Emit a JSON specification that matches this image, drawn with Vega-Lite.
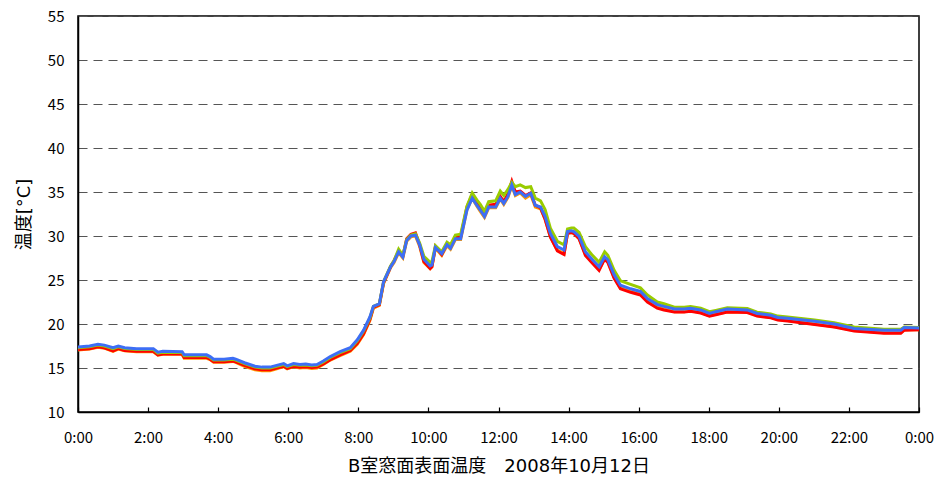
{
  "$schema": "https://vega.github.io/schema/vega-lite/v6.json",
  "autosize": "none",
  "width": 841,
  "height": 396,
  "padding": {"left": 78, "top": 16, "right": 16, "bottom": 66},
  "background": "white",
  "config": {
    "font": "Noto Sans CJK JP",
    "view": {"stroke": "#000000", "strokeWidth": 1.5},
    "axis": {"labelFont": "Noto Sans CJK JP", "titleFont": "DejaVu Sans, Noto Sans CJK JP", "labelColor": "#000", "titleColor": "#000", "titleFontWeight": "normal"}
  },
  "data": {"values": [
    {"h": 0.0, "B": 17.4, "R": 17.1, "G": 17.3, "O": 17.05},
    {"h": 0.33, "B": 17.5, "R": 17.2, "G": 17.4, "O": 17.15},
    {"h": 0.57, "B": 17.7, "R": 17.4, "G": 17.6, "O": 17.35},
    {"h": 0.75, "B": 17.6, "R": 17.3, "G": 17.5, "O": 17.25},
    {"h": 1.0, "B": 17.3, "R": 16.95, "G": 17.2, "O": 16.9},
    {"h": 1.15, "B": 17.5, "R": 17.2, "G": 17.4, "O": 17.15},
    {"h": 1.33, "B": 17.3, "R": 17.0, "G": 17.2, "O": 16.95},
    {"h": 1.67, "B": 17.2, "R": 16.9, "G": 17.1, "O": 16.85},
    {"h": 2.15, "B": 17.2, "R": 16.9, "G": 17.1, "O": 16.85},
    {"h": 2.28, "B": 16.8, "R": 16.5, "G": 16.7, "O": 16.45},
    {"h": 2.42, "B": 16.9, "R": 16.6, "G": 16.8, "O": 16.55},
    {"h": 2.97, "B": 16.85, "R": 16.6, "G": 16.75, "O": 16.55},
    {"h": 3.03, "B": 16.5, "R": 16.2, "G": 16.4, "O": 16.1},
    {"h": 3.67, "B": 16.5, "R": 16.2, "G": 16.4, "O": 16.1},
    {"h": 3.77, "B": 16.3, "R": 16.0, "G": 16.2, "O": 15.95},
    {"h": 3.87, "B": 16.0, "R": 15.7, "G": 15.9, "O": 15.65},
    {"h": 4.17, "B": 16.0, "R": 15.7, "G": 15.9, "O": 15.65},
    {"h": 4.42, "B": 16.1, "R": 15.8, "G": 16.0, "O": 15.75},
    {"h": 4.5, "B": 16.0, "R": 15.7, "G": 15.9, "O": 15.65},
    {"h": 4.75, "B": 15.6, "R": 15.3, "G": 15.5, "O": 15.2},
    {"h": 5.05, "B": 15.2, "R": 14.9, "G": 15.1, "O": 14.8},
    {"h": 5.25, "B": 15.1, "R": 14.8, "G": 15.0, "O": 14.7},
    {"h": 5.48, "B": 15.1, "R": 14.8, "G": 15.0, "O": 14.7},
    {"h": 5.67, "B": 15.3, "R": 15.0, "G": 15.2, "O": 14.9},
    {"h": 5.87, "B": 15.5, "R": 15.2, "G": 15.4, "O": 15.15},
    {"h": 5.97, "B": 15.25, "R": 14.95, "G": 15.15, "O": 14.9},
    {"h": 6.15, "B": 15.5, "R": 15.2, "G": 15.4, "O": 15.15},
    {"h": 6.33, "B": 15.4, "R": 15.1, "G": 15.3, "O": 15.0},
    {"h": 6.5, "B": 15.45, "R": 15.15, "G": 15.35, "O": 15.05},
    {"h": 6.67, "B": 15.35, "R": 15.05, "G": 15.25, "O": 14.95},
    {"h": 6.82, "B": 15.4, "R": 15.1, "G": 15.3, "O": 15.0},
    {"h": 7.0, "B": 15.8, "R": 15.45, "G": 15.7, "O": 15.4},
    {"h": 7.2, "B": 16.3, "R": 15.95, "G": 16.2, "O": 15.9},
    {"h": 7.48, "B": 16.85, "R": 16.5, "G": 16.75, "O": 16.4},
    {"h": 7.77, "B": 17.3, "R": 17.0, "G": 17.2, "O": 16.9},
    {"h": 7.97, "B": 18.2, "R": 17.8, "G": 18.1, "O": 17.7},
    {"h": 8.15, "B": 19.3, "R": 18.9, "G": 19.2, "O": 18.8},
    {"h": 8.33, "B": 20.8, "R": 20.5, "G": 20.7, "O": 20.4},
    {"h": 8.43, "B": 22.0, "R": 21.9, "G": 22.0, "O": 21.8},
    {"h": 8.6, "B": 22.3, "R": 22.2, "G": 22.3, "O": 22.1},
    {"h": 8.72, "B": 24.8, "R": 24.7, "G": 24.8, "O": 24.6},
    {"h": 8.92, "B": 26.5, "R": 26.5, "G": 26.6, "O": 26.4},
    {"h": 9.02, "B": 27.1, "R": 27.2, "G": 27.2, "O": 27.0},
    {"h": 9.15, "B": 28.2, "R": 28.3, "G": 28.5, "O": 28.1},
    {"h": 9.27, "B": 27.6, "R": 27.7, "G": 27.8, "O": 27.5},
    {"h": 9.38, "B": 29.5, "R": 29.7, "G": 29.6, "O": 29.4},
    {"h": 9.5, "B": 30.0, "R": 30.2, "G": 30.1, "O": 29.9},
    {"h": 9.63, "B": 30.1, "R": 30.35, "G": 30.25, "O": 30.0},
    {"h": 9.75, "B": 29.0, "R": 29.0, "G": 29.2, "O": 28.8},
    {"h": 9.87, "B": 27.35, "R": 27.1, "G": 27.7, "O": 27.0},
    {"h": 10.05, "B": 26.6, "R": 26.3, "G": 27.0, "O": 26.3},
    {"h": 10.1, "B": 26.7, "R": 26.5, "G": 27.1, "O": 26.5},
    {"h": 10.2, "B": 28.7, "R": 28.8, "G": 28.9, "O": 28.6},
    {"h": 10.38, "B": 28.0, "R": 27.9, "G": 28.2, "O": 27.8},
    {"h": 10.53, "B": 29.0, "R": 29.1, "G": 29.3, "O": 28.9},
    {"h": 10.63, "B": 28.6, "R": 28.7, "G": 29.0, "O": 28.5},
    {"h": 10.77, "B": 29.7, "R": 29.9, "G": 30.1, "O": 29.6},
    {"h": 10.92, "B": 29.7, "R": 29.9, "G": 30.2, "O": 29.6},
    {"h": 11.1, "B": 32.95, "R": 33.3, "G": 33.4, "O": 33.0},
    {"h": 11.25, "B": 34.3, "R": 34.7, "G": 34.9, "O": 34.3},
    {"h": 11.38, "B": 33.5, "R": 33.8, "G": 34.1, "O": 33.4},
    {"h": 11.48, "B": 32.95, "R": 33.1, "G": 33.6, "O": 32.8},
    {"h": 11.6, "B": 32.2, "R": 32.4, "G": 32.8, "O": 32.1},
    {"h": 11.72, "B": 33.3, "R": 33.5, "G": 33.9, "O": 33.2},
    {"h": 11.92, "B": 33.3, "R": 33.6, "G": 34.0, "O": 33.2},
    {"h": 12.05, "B": 34.3, "R": 34.5, "G": 35.1, "O": 34.2},
    {"h": 12.15, "B": 33.7, "R": 33.9, "G": 34.6, "O": 33.6},
    {"h": 12.27, "B": 34.5, "R": 34.8, "G": 35.3, "O": 34.4},
    {"h": 12.38, "B": 35.8, "R": 36.2, "G": 36.1, "O": 35.7},
    {"h": 12.48, "B": 34.7, "R": 35.0, "G": 35.6, "O": 34.6},
    {"h": 12.62, "B": 35.0, "R": 35.1, "G": 35.8, "O": 34.9},
    {"h": 12.77, "B": 34.5, "R": 34.6, "G": 35.5, "O": 34.3},
    {"h": 12.92, "B": 34.85, "R": 34.9, "G": 35.6, "O": 34.7},
    {"h": 13.05, "B": 33.5, "R": 33.5, "G": 34.3, "O": 33.3},
    {"h": 13.2, "B": 33.3, "R": 33.2, "G": 34.0, "O": 33.1},
    {"h": 13.33, "B": 32.2, "R": 31.9, "G": 33.0, "O": 31.9},
    {"h": 13.48, "B": 30.3, "R": 29.9, "G": 30.9, "O": 29.9},
    {"h": 13.68, "B": 28.8, "R": 28.3, "G": 29.4, "O": 28.4},
    {"h": 13.87, "B": 28.4, "R": 27.9, "G": 29.0, "O": 28.0},
    {"h": 13.97, "B": 30.5, "R": 30.3, "G": 30.8, "O": 30.3},
    {"h": 14.08, "B": 30.6, "R": 30.4, "G": 30.9, "O": 30.4},
    {"h": 14.15, "B": 30.5, "R": 30.3, "G": 30.9, "O": 30.3},
    {"h": 14.3, "B": 29.95, "R": 29.7, "G": 30.4, "O": 29.7},
    {"h": 14.48, "B": 28.2, "R": 27.8, "G": 28.8, "O": 27.9},
    {"h": 14.68, "B": 27.3, "R": 26.9, "G": 27.8, "O": 27.0},
    {"h": 14.87, "B": 26.5, "R": 26.1, "G": 27.0, "O": 26.2},
    {"h": 15.03, "B": 27.65, "R": 27.4, "G": 28.2, "O": 27.4},
    {"h": 15.12, "B": 27.3, "R": 27.0, "G": 27.8, "O": 27.1},
    {"h": 15.3, "B": 25.6, "R": 25.2, "G": 26.1, "O": 25.3},
    {"h": 15.48, "B": 24.4, "R": 24.0, "G": 24.9, "O": 24.1},
    {"h": 15.77, "B": 24.0, "R": 23.6, "G": 24.5, "O": 23.7},
    {"h": 16.05, "B": 23.7, "R": 23.3, "G": 24.1, "O": 23.4},
    {"h": 16.25, "B": 22.9, "R": 22.5, "G": 23.3, "O": 22.6},
    {"h": 16.53, "B": 22.2, "R": 21.8, "G": 22.5, "O": 21.9},
    {"h": 16.72, "B": 22.0, "R": 21.6, "G": 22.3, "O": 21.7},
    {"h": 17.02, "B": 21.7, "R": 21.35, "G": 21.9, "O": 21.4},
    {"h": 17.3, "B": 21.7, "R": 21.35, "G": 21.9, "O": 21.4},
    {"h": 17.48, "B": 21.8, "R": 21.45, "G": 22.0, "O": 21.5},
    {"h": 17.77, "B": 21.6, "R": 21.25, "G": 21.8, "O": 21.3},
    {"h": 18.02, "B": 21.2, "R": 20.9, "G": 21.4, "O": 20.95},
    {"h": 18.2, "B": 21.4, "R": 21.05, "G": 21.55, "O": 21.1},
    {"h": 18.53, "B": 21.7, "R": 21.35, "G": 21.85, "O": 21.4},
    {"h": 19.1, "B": 21.6, "R": 21.3, "G": 21.75, "O": 21.35},
    {"h": 19.38, "B": 21.2, "R": 20.9, "G": 21.35, "O": 20.95},
    {"h": 19.77, "B": 21.0, "R": 20.7, "G": 21.15, "O": 20.75},
    {"h": 19.97, "B": 20.75, "R": 20.45, "G": 20.9, "O": 20.5},
    {"h": 20.25, "B": 20.65, "R": 20.35, "G": 20.8, "O": 20.4},
    {"h": 21.02, "B": 20.3, "R": 19.95, "G": 20.45, "O": 20.0},
    {"h": 21.58, "B": 20.0, "R": 19.65, "G": 20.15, "O": 19.7},
    {"h": 22.15, "B": 19.5, "R": 19.2, "G": 19.65, "O": 19.25},
    {"h": 23.0, "B": 19.3, "R": 18.95, "G": 19.4, "O": 19.0},
    {"h": 23.48, "B": 19.3, "R": 18.95, "G": 19.4, "O": 19.0},
    {"h": 23.58, "B": 19.6, "R": 19.3, "G": 19.65, "O": 19.35},
    {"h": 24.0, "B": 19.55, "R": 19.35, "G": 19.6, "O": 19.35}
  ]},
  "encoding": {
    "x": {
      "field": "h", "type": "quantitative",
      "scale": {"domain": [0, 24], "nice": false, "zero": false},
      "axis": {
        "values": [0, 2, 4, 6, 8, 10, 12, 14, 16, 18, 20, 22, 24],
        "labelExpr": "(datum.value % 24) + ':00'",
        "grid": false, "tickSize": -5, "tickColor": "#000", "tickWidth": 1.2,
        "domainColor": "#000", "domainWidth": 1.5,
        "labelFontSize": 15, "labelPadding": 23, "labelFlush": false,
        "title": "B室窓面表面温度　2008年10月12日", "titleFontSize": 18, "titlePadding": 12
      }
    }
  },
  "layer": [
    {"mark": {"type": "line", "color": "#FF9900", "strokeWidth": 3, "clip": true},
     "encoding": {"y": {"field": "O", "type": "quantitative",
       "scale": {"domain": [10, 55], "nice": false, "zero": false},
       "axis": {"values": [10, 15, 20, 25, 30, 35, 40, 45, 50, 55], "grid": true, "gridDash": [9, 6], "gridColor": "#555555", "gridWidth": 1.2,
         "ticks": false, "domainColor": "#000", "domainWidth": 1.5,
         "labelFontSize": 15, "labelPadding": 14,
         "title": "温度[°C]", "titleFontSize": 18, "titlePadding": 14}}}},
    {"mark": {"type": "line", "color": "#FF0000", "strokeWidth": 3, "clip": true},
     "encoding": {"y": {"field": "R", "type": "quantitative"}}},
    {"mark": {"type": "line", "color": "#99CC00", "strokeWidth": 3, "clip": true},
     "encoding": {"y": {"field": "G", "type": "quantitative"}}},
    {"mark": {"type": "line", "color": "#3D6EF5", "strokeWidth": 3, "clip": true},
     "encoding": {"y": {"field": "B", "type": "quantitative"}}}
  ]
}
